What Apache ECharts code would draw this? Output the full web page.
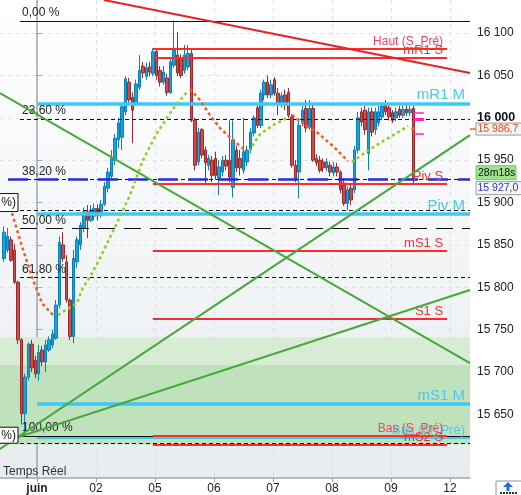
<!DOCTYPE html>
<html><head><meta charset="utf-8">
<script src="https://cdn.jsdelivr.net/npm/echarts@6/dist/echarts.min.js"></script>
<style>html,body{margin:0;padding:0;background:#fff}#c{width:521px;height:495px}</style>
</head><body><div id="c"></div>
<script>
// ---------- data ----------
const dayLabels = ['juin','02','05','06','07','08','09','12'];
const dayStarts = [0,17,34,51,68,85,102,119];
const yTicks = [15650,15700,15750,15800,15850,15900,15950,16000,16050,16100];
const candleStart = -10;
// [open, close, low, high]
const candles = [
[15834,15865,15830,15872],[15844,15860,15841,15870],[15856,15832,15830,15860],[15844,15806,15804,15851],
[15806,15738,15733,15808],[15738,15651,15638,15740],[15651,15694,15624,15698],[15694,15733,15690,15735],
[15733,15705,15700,15738],[15714,15698,15693,15719],
[15698,15723,15690,15732],[15726,15712,15707,15731],[15712,15732,15700,15738],[15726,15738,15724,15742],
[15732,15745,15728,15750],[15740,15779,15738,15785],[15779,15853,15775,15860],[15850,15834,15830,15865],
[15830,15785,15782,15838],[15785,15742,15738,15787],[15742,15834,15734,15844],[15830,15856,15823,15860],
[15850,15873,15844,15877],[15870,15889,15865,15894],[15889,15879,15858,15897],[15879,15891,15877,15897],
[15884,15893,15879,15899],
[15893,15885,15879,15898],[15885,15898,15882,15903],[15898,15919,15896,15924],[15917,15936,15912,15941],
[15931,15952,15927,15962],[15950,15976,15944,15981],[15974,15994,15964,16000],[15977,16013,15962,16016],
[16007,16046,16003,16049],[16042,16021,16016,16047],[16024,16009,15970,16030],[16017,16040,16014,16045],
[16036,16056,16033,16074],[16061,16053,16047,16066],[16049,16059,16045,16065],[16060,16054,16049,16066],
[16052,16078,16049,16082],
[16078,16050,16045,16082],[16056,16042,16037,16061],[16042,16054,16039,16061],[16047,16030,16026,16052],
[16030,16066,16028,16071],[16062,16080,16059,16115],[16074,16053,16049,16101],[16071,16050,16047,16075],
[16056,16074,16052,16086],[16060,16076,16056,16086],[16076,15997,15995,16080],[15997,15944,15938,16000],
[15948,15983,15944,15988],[15986,15956,15952,15988],[15962,15947,15921,15966],[15944,15952,15938,15956],
[15950,15932,15924,15955],
[15952,15932,15927,15960],[15929,15942,15909,15950],[15936,15950,15931,15955],[15950,15943,15938,15956],
[15950,15930,15924,15997],[15918,15974,15906,15997],[15962,15941,15936,15967],[15952,15941,15932,15962],
[15938,15960,15934,16000],[15948,15962,15943,15967],[15962,15983,15958,15988],[15982,16000,15978,16003],
[16012,15991,15988,16016],[15991,16029,15988,16033],[16027,16042,16021,16045],[16042,16027,16023,16050],
[16027,16039,16023,16045],
[16045,16029,16026,16048],[16029,16017,16003,16035],[16017,16026,16012,16030],[16027,16015,16009,16033],
[16030,16003,16000,16035],[16001,15944,15941,16004],[15944,15929,15924,15950],[15936,15991,15905,15997],
[15995,16009,15990,16014],[16011,15988,15983,16021],[15989,16011,15986,16021],[16011,15950,15948,16016],
[15952,15947,15943,15957],[15950,15938,15935,15955],[15948,15941,15936,15952],[15941,15948,15937,15952],
[15944,15936,15931,15948],
[15935,15942,15931,15948],[15942,15936,15931,15947],[15936,15915,15911,15938],[15923,15899,15896,15929],
[15899,15915,15891,15919],[15917,15903,15897,15921],[15915,15962,15911,15967],[15962,16000,15958,16007],
[16007,15995,15990,16012],[16009,15986,15980,16014],[15958,16007,15938,16012],[16007,15983,15978,16012],
[15986,16007,15980,16012],[15994,16007,15990,16014],[16001,16014,15997,16018],[16015,16007,16003,16021],
[16012,16001,15997,16016],
[16006,15997,15994,16009],[16000,16007,15996,16012],[16010,16003,16000,16014],[16003,16010,16000,16014],
[16010,16006,16002,16015],[16006,16010,16002,16014],[16011,15927,15923,16014]
];
const fibHigh = 16114.5, fibLow = 15624.4;
const fibRatios = [0, 23.6, 38.2, 50, 61.8, 100];
const fibLabels = ['0,00 %','23,60 %','38,20 %','50,00 %','61,80 %','100,00 %'];
const extraDashed = [15891, 15616];
const sNames = ['Haut (S_Pré)','mR1 S','Piv S','mS1 S','S1 S','Bas (S_Pré)','mS2 S'];
const sValues = [16081, 16070.5, 15922, 15843, 15763, 15624.4, 15614.6];
const mNames = ['mR1 M','Piv M','mS1 M','Bas (M_Pré)'];
const mValues = [16017, 15886.4, 15662.2, 15622.6];
const zoneBands = [15741.2, 15708.2, 15614.6];
const lastPrice = 15927.0;
const sarValue = 15986.7;
const countdown = '28m18s';
const pinkValues = [16005.6, 15998.5, 15980.8];
const redTrend = [[19.3, 16139], [124.8, 16052.8]];
const greenTrends = [
  [[-10.66, 16029.2], [124.8, 15710.5]],
  [[-10.66, 15609.2], [124.8, 15979.6]],
  [[-10.66, 15616.3], [124.8, 15796.8]]
];
const sarOrange = [
  [[-7.2,15887.6],[-4.9,15855.7],[-1.44,15812.0],[1.44,15781.3],[5.19,15764.8]],
  [[44.09,16033.9],[46.97,16020.9],[49.86,16003.2],[52.74,15987.9],[56.48,15973.7],[59.94,15961.9]],
  [[73.49,16003.2],[77.23,15991.4],[80.98,15982.0],[85.30,15966.6],[89.63,15948.9]]
];
const sarGreen = [
  [[6.05,15767.1],[8.65,15774.2],[11.53,15781.3],[13.26,15800.1],[15.27,15812.0],[18.16,15834.5],[23.05,15875.8],[26.8,15908.8],[30.55,15950.1],[34.58,15982.0],[38.9,16009.1],[43.23,16030.4]],
  [[61.1,15960.7],[64.27,15980.8],[68.6,15992.6],[72.05,15999.7]],
  [[90.78,15947.7],[95.1,15960.7],[98.85,15970.2],[103.17,15980.8],[106.92,15990.2]]
];
const sarLast = [[108.4, 15986.7]];

// ---------- layout constants ----------
const xMin = -10.66, xMax = 124.8;
const yMin = 15575, yMax = 16139;
const FIB_X0 = -4.9, M_X0 = 0, S_X0 = 33.4, S_X1 = 118.2, PRICE_X0 = -8.36, PINK_X = [108.4, 111.5];
const FONT = '"Liberation Sans", Arial, sans-serif';
const fmt = v => String(v).replace(/\B(?=(\d{3})+(?!\d))/g, ' ');

const chart = echarts.init(document.getElementById('c'), null, {renderer:'canvas'});

const lines = [];
fibRatios.forEach((r, i) => {
  const v = fibHigh - r / 100 * (fibHigh - fibLow);
  const solid = (r === 0 || r === 100);
  lines.push([{coord:[FIB_X0, v], lineStyle:{color:'#111', width: solid ? 1.2 : 1, type: solid ? 'solid' : (r === 50 ? [17, 9] : [4, 3])},
    label:{show:true, position:'insideStartTop', formatter: fibLabels[i], color:'#222', fontSize:12, fontFamily:FONT, distance:[2, 2]}},
    {coord:[xMax, v]}]);
});
extraDashed.forEach(v => lines.push([{coord:[FIB_X0, v], lineStyle:{color:'#111', width:1, type:[4,3]}, label:{show:false}}, {coord:[xMax, v]}]));
mValues.forEach((v, i) => {
  const last = i === mValues.length - 1;
  lines.push([{coord:[M_X0, v], lineStyle:{color:'#3ec9f4', width: last ? 2 : 3.5, type:'solid'},
    label:{show:true, position:'insideEndTop', formatter: mNames[i], color:'#4cc6f2', fontSize: last ? 13 : 15, fontFamily:FONT, distance:[5, 1]}},
    {coord:[xMax, v]}]);
});
sValues.forEach((v, i) => {
  const small = sNames[i].indexOf('Pré') >= 0;
  lines.push([{coord:[S_X0, v], lineStyle:{color:'#ff2a2a', width: 2, type:'solid'},
    label:{show:true, position:'insideEndTop', formatter: sNames[i], color: small ? '#f2445e' : '#f03434', fontSize: small ? 12 : 13, fontFamily:FONT, distance:[4, 1]}},
    {coord:[S_X1, v]}]);
});
lines.push([{coord:[PRICE_X0, lastPrice], lineStyle:{color:'#2a2ad2', width:2.5, type:[20,10]}, label:{show:false}}, {coord:[xMax, lastPrice]}]);
pinkValues.forEach((v, i) => lines.push([{coord:[PINK_X[0], v], lineStyle:{color:'#ff1fc8', width: i === 1 ? 3 : 1.5, type:'solid'}, label:{show:false}}, {coord:[PINK_X[1], v]}]));

const series = [
  {type:'line', name:'zone', data:[], z:1,
   markArea:{silent:true, data:[
     [{yAxis: zoneBands[0], itemStyle:{color:'#d7ebd5'}}, {yAxis: zoneBands[1]}],
     [{yAxis: zoneBands[1], itemStyle:{color:'#bfe2bd'}}, {yAxis: zoneBands[2]}]
   ]}},
  {type:'candlestick', name:'prix', z:3, barWidth:3,
   encode:{x:0, y:[1,2,3,4]},
   data: candles.map((c, i) => [candleStart + i + 0.5, c[0], c[1], c[2], c[3]]),
   itemStyle:{color:'#17a3de', color0:'#cf4a4a', borderColor:'#0b7fb8', borderColor0:'#9a2c2c', borderWidth:1}},
  {type:'line', name:'niveaux', data:[], z:5,
   markLine:{silent:true, symbol:['none','none'], animation:false, label:{show:false}, data: lines}},
  {type:'line', name:'tr', data: redTrend, z:6, symbol:'none', lineStyle:{color:'#ee1f1f', width:2}}
];
greenTrends.forEach(g => series.push({type:'line', data:g, z:6, symbol:'none', lineStyle:{color:'#44a936', width:2}}));
sarOrange.forEach(s => series.push({type:'line', data:s, z:7, symbol:'none', lineStyle:{color:'#ff5522', width:2.5, type:[3,3]}}));
sarGreen.forEach(s => series.push({type:'line', data:s, z:7, symbol:'none', lineStyle:{color:'#94cf1c', width:2.5, type:[3,3]}}));
series.push({type:'scatter', data: sarLast, z:7, symbolSize:4, itemStyle:{color:'#ff5522'}});

chart.setOption({
  animation:false,
  textStyle:{fontFamily:FONT},
  grid:{left:0, right:51, top:0, bottom:17, show:true, borderWidth:0,
    backgroundColor:{type:'linear', x:0, y:0, x2:0, y2:1, colorStops:[{offset:0, color:'#ffffff'}, {offset:1, color:'#e8ecef'}]}},
  xAxis:{type:'value', min:xMin, max:xMax,
    axisLine:{show:true, onZero:false, lineStyle:{color:'#9ea7af', width:1.5}},
    axisTick:{show:true, customValues: dayStarts, length:4, lineStyle:{color:'#9ea7af'}},
    axisLabel:{customValues: dayStarts, margin:5, color:'#222', fontSize:12, fontFamily:FONT,
      formatter: v => { const i = dayStarts.indexOf(Math.round(v)); const s = i >= 0 ? dayLabels[i] : ''; return i === 0 ? '{b|' + s + '}' : s; },
      rich:{b:{fontWeight:'bold', fontSize:12, color:'#222', fontFamily:FONT}}},
    splitLine:{show:true, lineStyle:{type:[4,4], color:'#dce1e5'}}},
  yAxis:{type:'value', position:'right', min:yMin, max:yMax,
    axisLine:{show:true, lineStyle:{color:'#9ea7af', width:1.5}},
    axisTick:{show:true, customValues: yTicks, length:5, lineStyle:{color:'#9ea7af'}},
    axisLabel:{customValues: yTicks, margin:7, color:'#222', fontSize:12, fontFamily:FONT,
      formatter: v => v === 16000 ? '{b|' + fmt(v) + '}' : fmt(v),
      rich:{b:{fontWeight:'bold', fontSize:12.5, color:'#111', fontFamily:FONT}}},
    splitLine:{show:true, lineStyle:{type:[4,4], color:'#e0e4e8'}}},
  series: series
});

const py = v => chart.convertToPixel({yAxisIndex:0}, v);
const px = v => chart.convertToPixel({xAxisIndex:0}, v);
const axX = px(xMax);
const ySar = py(sarValue), yLast = py(lastPrice);
const yBox1 = py(15900), yBox2 = py(15625.5);
const F11 = '10.5px ' + FONT;
chart.setOption({graphic:[
  {type:'line', shape:{x1:axX, y1:ySar, x2:axX + 6, y2:ySar}, style:{stroke:'#ff5522', lineWidth:1.5}, z:20},
  {type:'rect', shape:{x:axX + 6, y:ySar - 6, width:46, height:12}, style:{fill:'#f3f4f5', stroke:'#9a9a9a', lineWidth:1}, z:20},
  {type:'text', x:axX + 7.5, y:ySar, style:{text:'15 986,7', fill:'#ff4411', font:F11, textVerticalAlign:'middle'}, z:21},
  {type:'rect', shape:{x:axX + 6, y:yLast - 14, width:40, height:14}, style:{fill:'#9be38c', stroke:'#77c86a', lineWidth:1}, z:20},
  {type:'text', x:axX + 8, y:yLast - 7, style:{text:countdown, fill:'#111', font:F11, textVerticalAlign:'middle'}, z:21},
  {type:'rect', shape:{x:axX + 6, y:yLast + 2, width:46, height:13}, style:{fill:'#f3f5f7', stroke:'#9a9a9a', lineWidth:1}, z:20},
  {type:'text', x:axX + 7.5, y:yLast + 8.5, style:{text:'15 927,0', fill:'#3333cc', font:F11, textVerticalAlign:'middle'}, z:21},
  {type:'rect', shape:{x:-20, y:yBox1 - 9, width:38, height:18}, style:{fill:'#ffffff', stroke:'#111', lineWidth:1}, z:20},
  {type:'text', x:16, y:yBox1, style:{text:'%)', fill:'#111', font:'12px ' + FONT, textAlign:'right', textVerticalAlign:'middle'}, z:21},
  {type:'rect', shape:{x:-20, y:yBox2 - 8, width:38, height:16}, style:{fill:'#ffffff', stroke:'#111', lineWidth:1}, z:20},
  {type:'text', x:16, y:yBox2, style:{text:'%)', fill:'#111', font:'12px ' + FONT, textAlign:'right', textVerticalAlign:'middle'}, z:21},
  {type:'text', x:3, y:472, style:{text:'Temps Réel', fill:'#333', font:'12px ' + FONT, textVerticalAlign:'middle'}, z:21},
  {type:'rect', shape:{x:496, y:481, width:26, height:16}, style:{fill:'#ffffff', stroke:'#8a96a3', lineWidth:1}, z:20},
  {type:'polygon', shape:{points:[[508,482],[503,487],[513,487]]}, style:{fill:'#1a6fd6'}, z:21},
  {type:'rect', shape:{x:506.5, y:487, width:3, height:4}, style:{fill:'#1a6fd6'}, z:21},
  {type:'line', shape:{x1:500, y1:493, x2:517, y2:493}, style:{stroke:'#333', lineWidth:2, lineDash:[2,1]}, z:21}
]});
</script>
</body></html>
